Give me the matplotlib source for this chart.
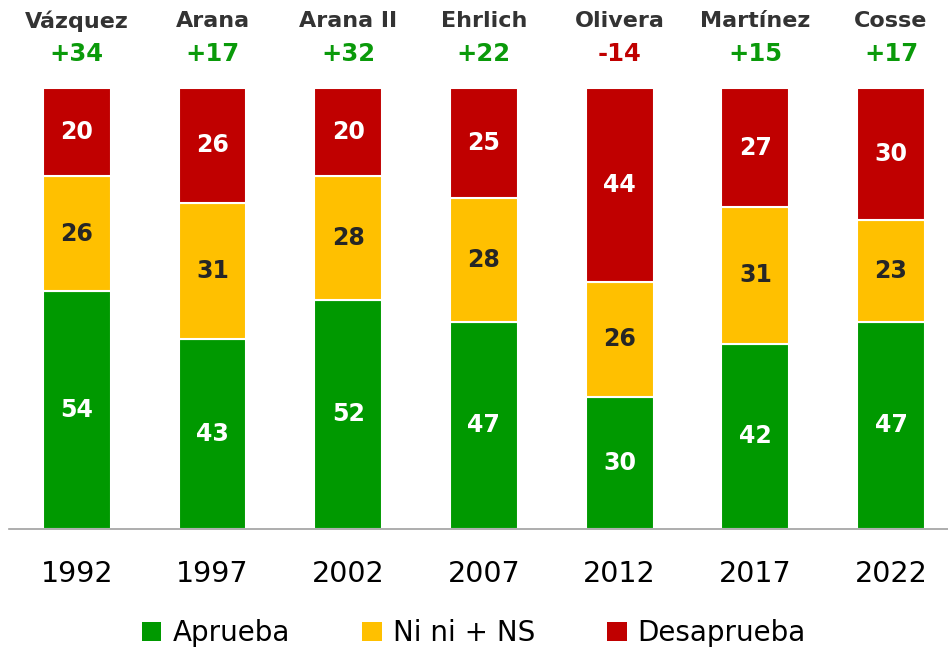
import matplotlib
matplotlib.use("Agg")
import matplotlib.pyplot as plt
from matplotlib.patches import Patch
from matplotlib.transforms import blended_transform_factory

years = ["1992", "1997", "2002", "2007", "2012", "2017", "2022"]
names = ["Vázquez", "Arana", "Arana II", "Ehrlich", "Olivera", "Martínez", "Cosse"]
aprueba = [54, 43, 52, 47, 30, 42, 47]
nini = [26, 31, 28, 28, 26, 31, 23]
desaprueba = [20, 26, 20, 25, 44, 27, 30]
series_labels = ["Aprueba", "Ni ni + NS", "Desaprueba"]

GREEN = "#009900"
YELLOW = "#FFC000"
RED = "#C00000"

plt.rcParams['font.family'] = ['DejaVu Sans']

fig = plt.figure(figsize=(9.48, 6.54), dpi=100)
ax = fig.add_axes([9/948, 1-529/654, (948-9)/948, (529-88)/654])

x = list(range(len(years)))
w = 0.5
ax.bar(x, aprueba, w, color=GREEN, edgecolor="white", linewidth=1.5)
bottom2 = aprueba
ax.bar(x, nini, w, bottom=bottom2, color=YELLOW, edgecolor="white", linewidth=1.5)
bottom3 = [a + n for a, n in zip(aprueba, nini)]
ax.bar(x, desaprueba, w, bottom=bottom3, color=RED, edgecolor="white", linewidth=1.5)

tr = blended_transform_factory(ax.transData, fig.transFigure)
for i in x:
    ax.text(i, aprueba[i] / 2, str(aprueba[i]), ha="center", va="center",
            color="white", fontsize=17, fontweight="bold")
    ax.text(i, bottom2[i] + nini[i] / 2, str(nini[i]), ha="center", va="center",
            color="#262626", fontsize=17, fontweight="bold")
    ax.text(i, bottom3[i] + desaprueba[i] / 2, str(desaprueba[i]), ha="center", va="center",
            color="white", fontsize=17, fontweight="bold")
    net = aprueba[i] - desaprueba[i]
    txt = f"+{net}" if net > 0 else f"-{abs(net)}"
    col = "#0A9A0A" if net > 0 else RED
    ax.text(i, 1 - 21/654, names[i], ha="center", va="center", color="#333333",
            fontsize=16, fontweight="bold", transform=tr)
    ax.text(i, 1 - 54/654, txt, ha="center", va="center", color=col,
            fontsize=17.5, fontweight="bold", transform=tr)

ax.set_xlim(-0.5, 6.42)
ax.set_ylim(0, 100)
ax.set_xticks(x)
ax.set_xticklabels(years, fontsize=20.5)
ax.tick_params(axis="x", length=0, pad=22)
ax.set_yticks([])
for s in ["top", "left", "right"]:
    ax.spines[s].set_visible(False)
ax.spines["bottom"].set_color("#A0A0A0")
ax.spines["bottom"].set_linewidth(1.2)

handles = [Patch(facecolor=c, edgecolor="none") for c in (GREEN, YELLOW, RED)]
fig.legend(handles, series_labels, loc="center", bbox_to_anchor=(0.5, 1 - 633/654),
           ncol=3, frameon=False, fontsize=20, handlelength=0.7, handleheight=0.7,
           handletextpad=0.4, columnspacing=2.6)

fig.savefig("out.png", dpi=100)
